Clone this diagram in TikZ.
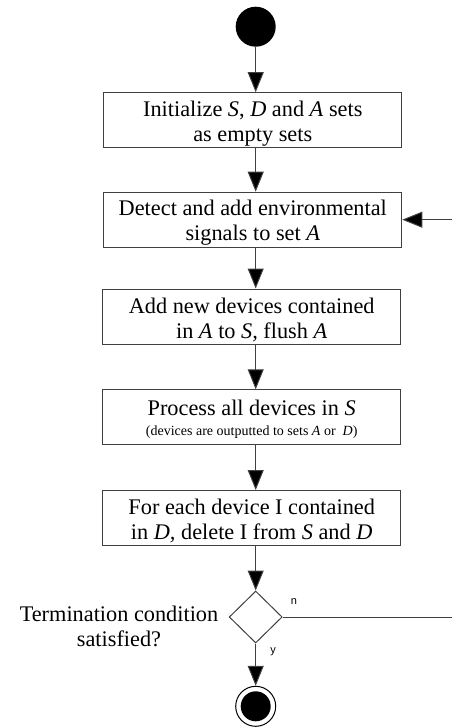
\documentclass[tikz,border=0pt]{standalone}
\usepackage{fontspec}
\setmainfont{Liberation Serif}
\newfontfamily\labelfont{Liberation Sans}
\usetikzlibrary{arrows.meta,shapes.geometric}
% strut that lowers the text block a little inside the activity boxes
\newcommand\boxtopstrut[1]{\rule{0pt}{#1}}
\begin{document}
\begin{tikzpicture}[x=1pt,y=-1pt,
  edge/.style={draw=black!75, line width=1pt},
  flow/.style={edge, -{Triangle[length=20pt,width=16pt,fill=black]}},
  actbox/.style={draw=black!75, line width=1pt, fill=white, inner sep=0pt,
    align=center, minimum width=298pt, minimum height=55pt,
    font=\fontsize{22.3}{25}\selectfont},
  branch/.style={font=\labelfont\fontsize{11}{13}\selectfont, inner sep=0pt},
]
\useasboundingbox (0,0) rectangle (451,727);

% initial node
\node[circle, fill=black, minimum size=40pt, inner sep=0pt] (start) at (255.7,26.7) {};

% activities
\node[actbox] (b1) at (252.8,120.2)
  {\boxtopstrut{22pt}Initialize \textit{S}, \textit{D} and \textit{A} sets\\as empty sets};
\node[actbox] (b2) at (252.8,219.7)
  {\boxtopstrut{22pt}Detect and add environmental\\signals to set \textit{A}};
\node[actbox] (b3) at (251.7,316.5)
  {\boxtopstrut{22pt}Add new devices contained\\in \textit{A} to \textit{S,} flush \textit{A}};
\node[actbox] (b4) at (251.7,417.3)
  {\boxtopstrut{19.8pt}Process all devices in \textit{S}\\[-5pt]{\fontsize{14}{16}\selectfont (devices are outputted to sets \textit{A} or\ \ \textit{D})}};
\node[actbox] (b5) at (251.7,518)
  {\boxtopstrut{22pt}For each device I contained\\in \textit{D,} delete I from \textit{S} and \textit{D}};

% decision
\node[diamond, aspect=1, draw=black!75, line width=1pt, fill=white,
  minimum width=53pt, minimum height=52pt, inner sep=0pt] (dec) at (255.7,617) {};
\node[align=center, font=\fontsize{22.3}{25}\selectfont] (cond) at (119,626)
  {Termination condition\\satisfied?};
\node[branch] (nlab) at (294,602) {n};
\node[branch] (ylab) at (273,652) {y};

% final node
\node[circle, draw=black, line width=1pt, fill=white, minimum size=40pt, inner sep=0pt] (stop) at (255.7,706.3) {};
\node[circle, fill=black, minimum size=30pt, inner sep=0pt] (stopdot) at (stop) {};

% control flow
\draw[flow] (start) -- (start |- b1.north);
\draw[flow] (b1.south -| start) -- (b2.north -| start);
\draw[flow] (b2.south -| start) -- (b3.north -| start);
\draw[flow] (b3.south -| start) -- (b4.north -| start);
\draw[flow] (b4.south -| start) -- (b5.north -| start);
\draw[flow] (b5.south -| start) -- (dec.north);
\draw[flow] (dec.south) -- (stop.north);
\draw[flow] (dec.east) -- (454,617) |- (b2.east);
\end{tikzpicture}
\end{document}
